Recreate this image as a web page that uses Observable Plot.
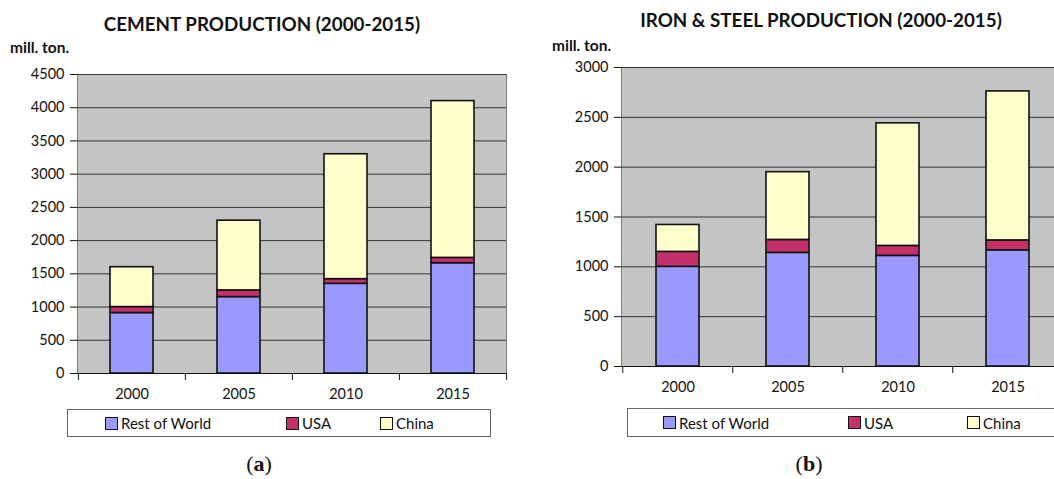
<!DOCTYPE html>
<html>
<head>
<meta charset="utf-8">
<script src="https://cdn.jsdelivr.net/npm/d3@7"></script>
<script src="https://cdn.jsdelivr.net/npm/@observablehq/plot@0.6"></script>
<style>
  html, body { margin: 0; padding: 0; overflow: hidden; background: #fff; }
  #root { position: relative; width: 1054px; height: 479px; overflow: hidden; font-family: Lato, "Open Sans", sans-serif; color: #111; }
  .abs { position: absolute; white-space: nowrap; }
  .title { font-weight: 700; font-size: 18.8px; transform: translate(-50%, -50%); }
  .unit { font-weight: 700; font-size: 15.5px; transform: translateY(-50%); }
  .legend { border: 1px solid #666; background: #fff; box-sizing: border-box; }
  .item { position: absolute; top: 50%; transform: translateY(-50%); font-size: 15px; display: flex; align-items: center; }
  .sw { width: 11px; height: 11px; border: 1.5px solid #111; margin-right: 3px; display: inline-block; }
  .cap { font-family: "Liberation Serif", "DejaVu Serif", serif; font-size: 22px; transform: translate(-50%, -50%); }
  .cap b { font-weight: 700; }
  .plot { position: absolute; top: 50px; }
</style>
</head>
<body>
<div id="root"></div>
<script>
// ---- data ----
const years = ["2000", "2005", "2010", "2015"];
const seriesNames = ["Rest of World", "USA", "China"];
const seriesColors = ["#9999ff", "#c4306a", "#ffffcc"];

const cementRestOfWorld = [910, 1150, 1350, 1660];
const cementUSA = [90, 100, 70, 80];
const cementChina = [600, 1050, 1880, 2360];
const cementTicks = [0, 500, 1000, 1500, 2000, 2500, 3000, 3500, 4000, 4500];

const steelRestOfWorld = [1000, 1140, 1110, 1165];
const steelUSA = [150, 130, 100, 100];
const steelChina = [270, 680, 1230, 1495];
const steelTicks = [0, 500, 1000, 1500, 2000, 2500, 3000];

function rows(a, b, c) {
  const out = [];
  const arrs = [a, b, c];
  seriesNames.forEach((s, si) => years.forEach((y, i) => out.push({year: y, series: s, value: arrs[si][i]})));
  return out;
}

const root = document.getElementById("root");
function addDiv(cls, x, y, html) {
  const d = document.createElement("div");
  d.className = "abs " + cls;
  d.style.left = x + "px";
  d.style.top = y + "px";
  d.innerHTML = html;
  root.appendChild(d);
  return d;
}

function chart(cfg) {
  const data = rows(...cfg.values);
  const innerW = cfg.width - cfg.ml - cfg.mr;
  const step = innerW / years.length;
  const ymax = cfg.ticks[cfg.ticks.length - 1];
  const innerH = cfg.height - cfg.mt - cfg.mb;
  const tickLen = 7 * ymax / innerH;
  const p = Plot.plot({
    width: cfg.width,
    height: cfg.height,
    marginLeft: cfg.ml, marginRight: cfg.mr, marginTop: cfg.mt, marginBottom: cfg.mb,
    style: {fontFamily: "Lato, sans-serif", fontSize: "14px", color: "#111", background: "transparent", overflow: "visible"},
    x: {domain: years, paddingInner: cfg.pad, paddingOuter: cfg.pad / 2, label: null},
    y: {domain: [0, ymax], label: null},
    color: {domain: seriesNames, range: seriesColors},
    marks: [
      Plot.frame({fill: "#c4c4c4", stroke: "#7a7a7a"}),
      Plot.ruleY(cfg.ticks, {stroke: "#333", strokeWidth: 1}),
      Plot.ruleY([0], {stroke: "#111", strokeWidth: 1.2}),
      Plot.barY(data, Plot.stackY({x: "year", y: "value", fill: "series", stroke: "#111", strokeWidth: 1.6, order: seriesNames})),
      Plot.axisY({ticks: cfg.ticks, tickSize: 7, tickPadding: 6, tickFormat: d => String(d), fontSize: 14.5}),
      Plot.axisX({tickSize: 0, tickPadding: cfg.xpad, fontSize: 14.5}),
      Plot.ruleX(years, {x: d => d, dx: -step / 2, y1: 0, y2: -tickLen, stroke: "#111"}),
      Plot.ruleX([years[years.length - 1]], {x: d => d, dx: step / 2, y1: 0, y2: -tickLen, stroke: "#111"})
    ]
  });
  p.classList.add("plot");
  p.style.left = cfg.left + "px";
  root.appendChild(p);
}

// left panel (a)
addDiv("title", 262, 23, "CEMENT PRODUCTION (2000-2015)");
addDiv("unit", 10, 47, "mill. ton.");
chart({left: 0, width: 530, height: 350, ml: 77, mr: 24, mt: 24, mb: 27, pad: 0.6, xpad: 15,
       ticks: cementTicks, values: [cementRestOfWorld, cementUSA, cementChina]});

// right panel (b)
addDiv("title", 821, 19, "IRON &amp; STEEL PRODUCTION (2000-2015)");
addDiv("unit", 552, 45, "mill. ton.");
chart({left: 530, width: 540, height: 350, ml: 91, mr: 7, mt: 17, mb: 34, pad: 0.61, xpad: 15,
       ticks: steelTicks, values: [steelRestOfWorld, steelUSA, steelChina]});

// legends
function legend(x, y, w, h, positions) {
  const box = addDiv("legend", x, y, "");
  box.style.width = w + "px";
  box.style.height = h + "px";
  seriesNames.forEach((s, i) => {
    const it = document.createElement("div");
    it.className = "item";
    it.style.left = positions[i] + "px";
    it.innerHTML = `<span class="sw" style="background:${seriesColors[i]}"></span>${s}`;
    box.appendChild(it);
  });
}
legend(67, 409, 424, 28, [37, 218, 312]);
legend(627, 408, 460, 29, [35, 220, 339]);

// captions
addDiv("cap", 259, 464, "(<b>a</b>)");
addDiv("cap", 809, 464, "(<b>b</b>)");
</script>
</body>
</html>
